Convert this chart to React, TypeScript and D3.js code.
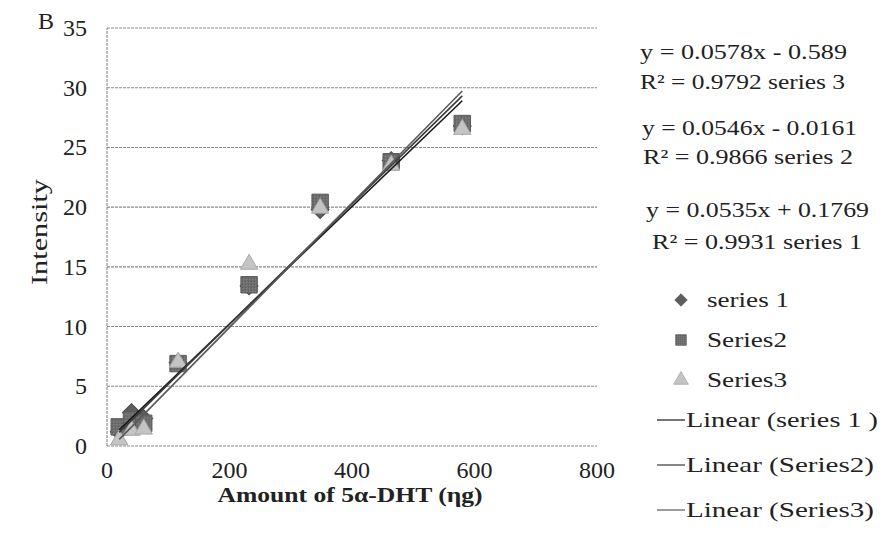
import React from "react";
import * as d3 from "d3";

const xValues = [20, 40, 60, 116, 232, 348, 464, 580];
const series1 = [1.2, 2.8, 2.3, 7.0, 13.4, 19.8, 23.9, 26.8];
const series2 = [1.6, 2.2, 1.9, 6.9, 13.5, 20.4, 23.8, 27.0];
const series3 = [0.6, 1.4, 1.5, 7.1, 15.3, 20.0, 23.6, 26.6];

const xTicks = [0, 200, 400, 600, 800];
const yTicks = [0, 5, 10, 15, 20, 25, 30, 35];

// trendlines as drawn in the picture (slope, intercept)
const trendSlopes = [0.0492, 0.0503, 0.0521];
const trendIntercepts = [0.37, 0.14, -0.49];
const trendColors = ["#1a1a1a", "#3a3a3a", "#5a5a5a"];

const equationLines = [
  "y = 0.0578x - 0.589",
  "R\u00B2 = 0.9792 series 3",
  "y = 0.0546x - 0.0161",
  "R\u00B2 = 0.9866 series 2",
  "y = 0.0535x + 0.1769",
  "R\u00B2 = 0.9931 series 1",
];
const legendMarkerLabels = ["series 1", "Series2", "Series3"];
const legendLineLabels = ["Linear (series 1 )", "Linear (Series2)", "Linear (Series3)"];

const W = 893;
const H = 547;
const FONT = "'Liberation Serif', 'Times New Roman', serif";

export default function App() {
  const x = d3.scaleLinear().domain([0, 800]).range([107, 597]);
  const y = d3.scaleLinear().domain([0, 35]).range([446, 28]);

  const square = d3.symbol().type(d3.symbolSquare).size(270)() as string;
  const diamond = d3.symbol().type(d3.symbolSquare).size(160)() as string;
  const triangle = d3.symbol().type(d3.symbolTriangle).size(130)() as string;

  const xMin = d3.min(xValues) as number;
  const xMax = d3.max(xValues) as number;

  const eqPos = [
    { x: 640, y: 59, w: 207 },
    { x: 640, y: 89, w: 205 },
    { x: 642, y: 135, w: 215 },
    { x: 643, y: 164, w: 210 },
    { x: 646, y: 217, w: 223 },
    { x: 652, y: 249, w: 210 },
  ];
  const markerLabelW = [82, 80, 80];
  const lineLabelW = [192, 188, 188];

  return (
    <svg width={W} height={H} style={{ position: "absolute", left: 0, top: 0, background: "#fff" }}>
      <defs>
        <pattern id="tex" width="3" height="3" patternUnits="userSpaceOnUse">
          <rect width="3" height="3" fill="#6e6e6e" />
          <rect width="1" height="1" fill="#8c8c8c" />
          <rect x="2" y="2" width="1" height="1" fill="#555" />
        </pattern>
      </defs>
      <text x={38} y={29} fontFamily={FONT} fontSize={24} fill="#222">B</text>

      {/* gridlines */}
      {yTicks.map((t) => (
        <line
          key={"g" + t}
          x1={x(0)}
          x2={x(800)}
          y1={y(t)}
          y2={y(t)}
          stroke="#8a8a8a"
          strokeWidth={1.1}
          strokeDasharray="3 1"
        />
      ))}
      <line x1={x(0)} x2={x(0)} y1={y(0)} y2={y(35)} stroke="#8a8a8a" strokeWidth={1.1} strokeDasharray="3 1" />

      {/* y ticks */}
      {yTicks.map((t) => (
        <text
          key={"yt" + t}
          x={87}
          y={y(t) + 8}
          textAnchor="end"
          fontFamily={FONT}
          fontSize={24}
          fill="#222"
        >
          {t}
        </text>
      ))}
      {/* x ticks */}
      {xTicks.map((t) => (
        <text
          key={"xt" + t}
          x={x(t)}
          y={478}
          textAnchor="middle"
          fontFamily={FONT}
          fontSize={24}
          fill="#222"
        >
          {t}
        </text>
      ))}

      <text
        transform={`translate(47,232) rotate(-90)`}
        textAnchor="middle"
        fontFamily={FONT}
        fontSize={23}
        fill="#222"
        textLength={106}
        lengthAdjust="spacingAndGlyphs"
      >
        Intensity
      </text>
      <text
        x={350}
        y={502}
        textAnchor="middle"
        fontFamily={FONT}
        fontSize={21}
        fontWeight="bold"
        fill="#222"
        textLength={265}
        lengthAdjust="spacingAndGlyphs"
      >
        Amount of 5α-DHT (ηg)
      </text>

      {/* markers */}
      {xValues.map((xv, i) => (
        <path
          key={"d" + i}
          d={diamond}
          transform={`translate(${x(xv)},${y(series1[i])}) rotate(45)`}
          fill="#5e5e5e"
          stroke="#4a4a4a"
          strokeWidth={1}
        />
      ))}
      {xValues.map((xv, i) => (
        <path
          key={"s" + i}
          d={square}
          transform={`translate(${x(xv)},${y(series2[i])})`}
          fill="url(#tex)"
          stroke="#5a5a5a"
          strokeWidth={1}
        />
      ))}
      {xValues.map((xv, i) => (
        <path
          key={"t" + i}
          d={triangle}
          transform={`translate(${x(xv)},${y(series3[i]) + 1})`}
          fill="#c4c4c4"
          stroke="#a8a8a8"
          strokeWidth={1}
        />
      ))}

      {/* trendlines */}
      {trendSlopes.map((m, k) => (
        <path
          key={"tr" + k}
          d={
            d3
              .line<number>()
              .x((d) => x(d))
              .y((d) => y(m * d + trendIntercepts[k]))([xMin, xMax]) as string
          }
          fill="none"
          stroke={trendColors[k]}
          strokeWidth={1.6}
        />
      ))}

      {/* equations */}
      {equationLines.map((s, i) => (
        <text
          key={"eq" + i}
          x={eqPos[i].x}
          y={eqPos[i].y}
          fontFamily={FONT}
          fontSize={21}
          fill="#222"
          textLength={eqPos[i].w}
          lengthAdjust="spacingAndGlyphs"
        >
          {s}
        </text>
      ))}

      {/* legend markers */}
      {legendMarkerLabels.map((s, i) => {
        const ly = 300 + i * 40;
        const d = i === 0 ? diamond : i === 1 ? square : triangle;
        const fill = i === 0 ? "#5e5e5e" : i === 1 ? "url(#tex)" : "#c4c4c4";
        const sc = i === 0 ? 0.7 : i === 1 ? 0.65 : 0.85;
        const rot = i === 0 ? " rotate(45)" : "";
        return (
          <g key={"lm" + i}>
            <path d={d} transform={`translate(681,${ly}) scale(${sc})${rot}`} fill={fill} stroke={i === 2 ? "#aaa" : "#555"} />
            <text
              x={707}
              y={ly + 7}
              fontFamily={FONT}
              fontSize={22}
              fill="#222"
              textLength={markerLabelW[i]}
              lengthAdjust="spacingAndGlyphs"
            >
              {s}
            </text>
          </g>
        );
      })}
      {legendLineLabels.map((s, i) => {
        const ly = 420 + i * 45;
        return (
          <g key={"ll" + i}>
            <line x1={657} x2={685} y1={ly} y2={ly} stroke={trendColors[i]} strokeWidth={1.2} />
            <text
              x={686}
              y={ly + 7}
              fontFamily={FONT}
              fontSize={22}
              fill="#222"
              textLength={lineLabelW[i]}
              lengthAdjust="spacingAndGlyphs"
            >
              {s}
            </text>
          </g>
        );
      })}
    </svg>
  );
}
